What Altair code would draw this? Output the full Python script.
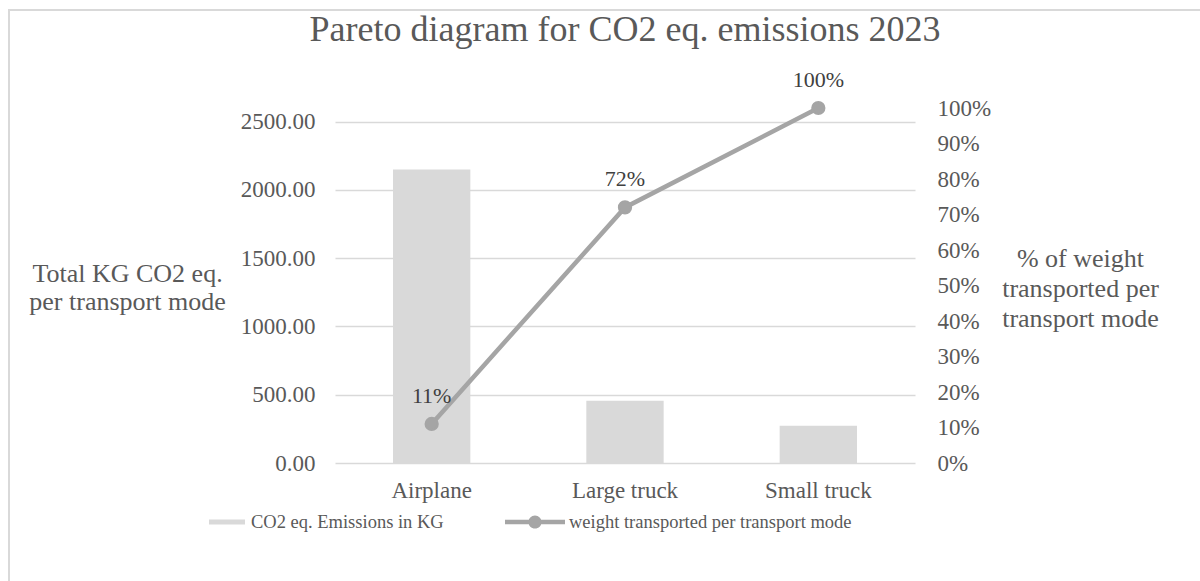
import altair as alt
import pandas as pd

modes = ["Airplane", "Large truck", "Small truck"]
co2_kg = [2150, 456, 272]
weight_pct = [0.11, 0.72, 1.00]
pct_labels = ["11%", "72%", "100%"]
left_ticks = [0, 500, 1000, 1500, 2000, 2500]
right_ticks = [0, 0.1, 0.2, 0.3, 0.4, 0.5, 0.6, 0.7, 0.8, 0.9, 1.0]
bar_series = "CO2 eq. Emissions in KG"
line_series = "weight transported per transport mode"

df = pd.DataFrame({
    "mode": modes,
    "co2": co2_kg,
    "pct": weight_pct,
    "label": pct_labels,
    "bar_series": [bar_series] * 3,
    "line_series": [line_series] * 3,
})

FONT = "Liberation Serif"
TXT = "#595959"
GRID = "#d9d9d9"
BAR = "#d9d9d9"
LINE = "#a5a5a5"

x_enc = alt.X(
    "mode:N", sort=modes, title=None,
    scale=alt.Scale(paddingInner=0.6, paddingOuter=0.3),
    axis=alt.Axis(labelAngle=0, labelFont=FONT, labelFontSize=23, labelColor=TXT,
                  labelPadding=16, ticks=False, domain=False, grid=False),
)

bars = alt.Chart(df).mark_bar(color=BAR).encode(
    x=x_enc,
    y=alt.Y(
        "co2:Q",
        scale=alt.Scale(domain=[0, 2600], nice=False),
        axis=alt.Axis(
            values=left_ticks, format=".2f", grid=True, gridColor=GRID, gridWidth=1.5,
            domain=False, ticks=False, labelFont=FONT, labelFontSize=23, labelColor=TXT,
            labelPadding=20,
            title=["Total KG CO2 eq.", "per transport mode"], titleAngle=0,
            titleFont=FONT, titleFontSize=26, titleFontWeight="normal", titleColor=TXT,
            titleAlign="center", titleBaseline="middle", titleLineHeight=28,
            titleX=-208, titleY=165,
        ),
    ),
    fill=alt.Fill(
        "bar_series:N", scale=alt.Scale(range=[BAR]),
        legend=alt.Legend(
            title=None, orient="none", legendX=-126, legendY=396,
            symbolType="M-1,-0.14 H1 V0.14 H-1 Z", symbolSize=1296,
            symbolStrokeWidth=0, labelFont=FONT, labelFontSize=18.5, labelColor=TXT,
            labelOffset=6, labelLimit=500,
        ),
    ),
)

y_right = alt.Y(
    "pct:Q",
    scale=alt.Scale(domain=[0, 1], nice=False),
    axis=alt.Axis(
        orient="right", values=right_ticks, format=".0%", grid=False, domain=False,
        ticks=False, labelFont=FONT, labelFontSize=23, labelColor=TXT, labelPadding=22,
        title=["% of weight", "transported per", "transport mode"], titleAngle=0,
        titleFont=FONT, titleFontSize=26, titleFontWeight="normal", titleColor=TXT,
        titleAlign="center", titleBaseline="middle", titleLineHeight=30,
        titleX=165, titleY=150,
    ),
)

line = alt.Chart(df).mark_line(
    strokeWidth=4.5,
    point=alt.OverlayMarkDef(filled=True, size=150, color=LINE),
).encode(
    x=x_enc,
    y=y_right,
    stroke=alt.Stroke(
        "line_series:N", scale=alt.Scale(range=[LINE]),
        legend=alt.Legend(
            title=None, orient="none", legendX=170, legendY=384,
            symbolType=("M-1,-0.075 H-0.2 V0.075 H-1 Z M0.2,-0.075 H1 V0.075 H0.2 Z "
                        "M0.22,0 A0.22,0.22 0 1,1 -0.22,0 A0.22,0.22 0 1,1 0.22,0 Z"),
            symbolSize=3600, symbolFillColor=LINE, symbolStrokeWidth=0,
            labelFont=FONT, labelFontSize=18.5, labelColor=TXT, labelOffset=4,
            labelLimit=500,
        ),
    ),
)

labels = alt.Chart(df).mark_text(
    font=FONT, fontSize=22, color="#404040", dy=-28, baseline="middle",
).encode(
    x=x_enc,
    y=y_right,
    text="label:N",
)

frame_src = pd.DataFrame({"k": [0]})
frame_left = alt.Chart(frame_src).mark_rule(color="#d9d9d9", strokeWidth=2).encode(
    x=alt.value(-326), y=alt.value(-98), y2=alt.value(480)
)
frame_top = alt.Chart(frame_src).mark_rule(color="#d9d9d9", strokeWidth=2).encode(
    x=alt.value(-327), x2=alt.value(870), y=alt.value(-98)
)

chart = alt.layer(frame_left, frame_top, bars, alt.layer(line, labels)).resolve_scale(
    y="independent", fill="independent", stroke="independent"
).properties(
    width=580, height=355,
    title=alt.TitleParams(
        "Pareto diagram for CO2 eq. emissions 2023", font=FONT, fontSize=36,
        fontWeight="normal", color=TXT, anchor="middle", offset=-40,
    ),
    background="white",
    autosize=alt.AutoSizeParams(type="none"),
    padding={"left": 335, "top": 108, "right": 285, "bottom": 118},
).configure_view(strokeWidth=0, stroke="transparent")

chart.save("out.html", embed_options={"renderer": "svg", "actions": False})
